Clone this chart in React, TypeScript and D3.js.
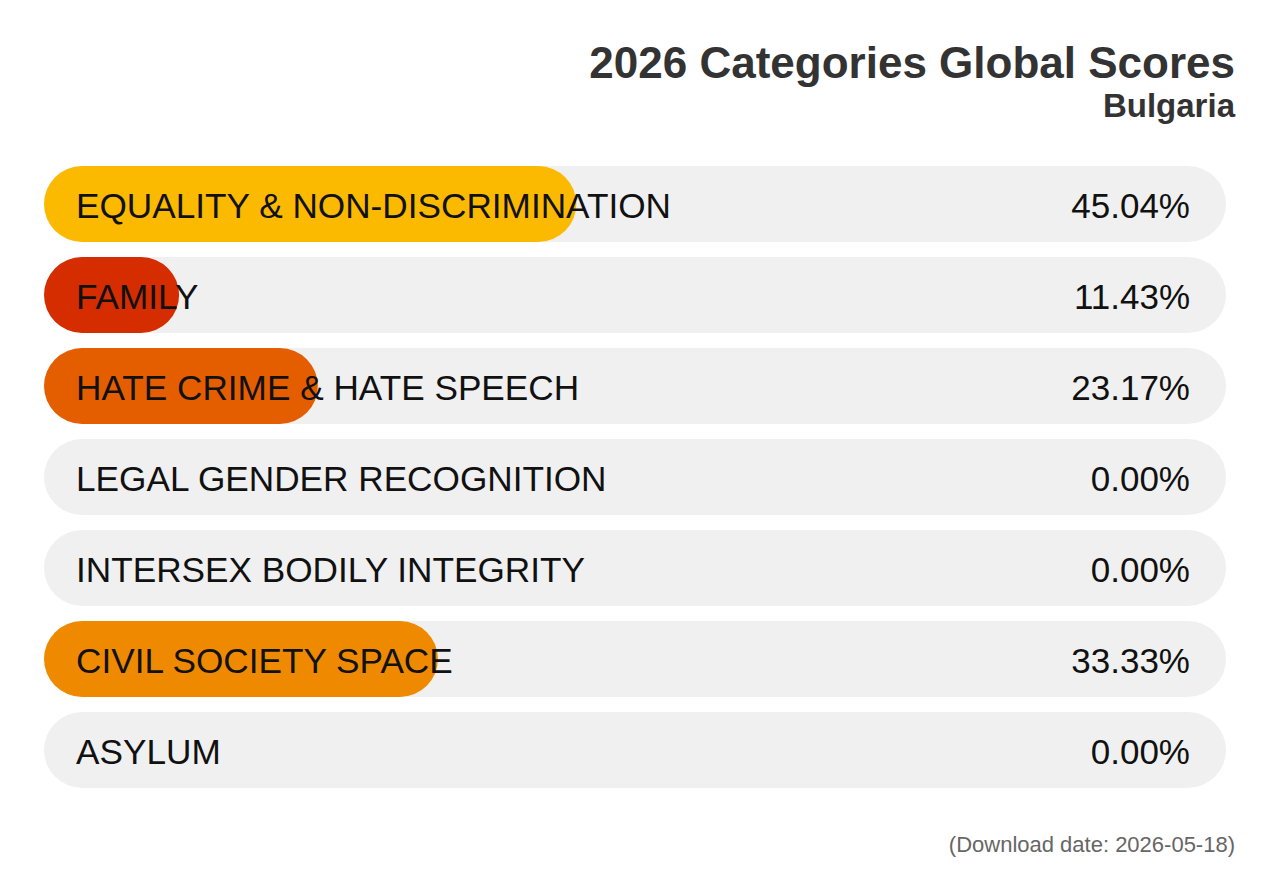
import { useEffect, useRef } from "react";
import * as d3 from "d3";

const categories = [
  "EQUALITY & NON-DISCRIMINATION",
  "FAMILY",
  "HATE CRIME & HATE SPEECH",
  "LEGAL GENDER RECOGNITION",
  "INTERSEX BODILY INTEGRITY",
  "CIVIL SOCIETY SPACE",
  "ASYLUM",
];
const scores = [45.04, 11.43, 23.17, 0, 0, 33.33, 0];
const colors = ["#FBBA00", "#D52D00", "#E45E00", "#F29000", "#F29000", "#EF8A00", "#F29000"];

const title = "2026 Categories Global Scores";
const subtitle = "Bulgaria";
const footnote = "(Download date: 2026-05-18)";

export default function App() {
  const svgRef = useRef<SVGSVGElement>(null);

  const width = 1280;
  const height = 887;

  useEffect(() => {
    const svg = d3.select(svgRef.current);
    svg.selectAll("*").remove();

    const x = d3.scaleLinear([0, 100], [44, 1226]);
    const y = d3
      .scaleBand<string>()
      .domain(categories)
      .range([158.5, 795.5])
      .paddingInner(0.165)
      .paddingOuter(0.0825);
    const bh = y.bandwidth();

    svg
      .append("text")
      .attr("x", 1235)
      .attr("y", 78)
      .attr("text-anchor", "end")
      .attr("font-size", 44)
      .attr("font-weight", "bold")
      .attr("fill", "#333")
      .text(title);

    svg
      .append("text")
      .attr("x", 1235)
      .attr("y", 117)
      .attr("text-anchor", "end")
      .attr("font-size", 33)
      .attr("font-weight", "bold")
      .attr("fill", "#333")
      .text(subtitle);

    const row = svg
      .append("g")
      .selectAll("g")
      .data(categories)
      .join("g")
      .attr("transform", (d) => `translate(0,${y(d)})`);

    row
      .append("rect")
      .attr("x", x(0))
      .attr("width", x(100) - x(0))
      .attr("height", bh)
      .attr("rx", bh / 2)
      .attr("fill", "#f0f0f0");

    row
      .filter((d, i) => scores[i] > 0)
      .append("rect")
      .attr("x", x(0))
      .attr("width", (d) => x(scores[categories.indexOf(d)]) - x(0))
      .attr("height", bh)
      .attr("rx", bh / 2)
      .attr("fill", (d) => colors[categories.indexOf(d)]);

    row
      .append("text")
      .attr("x", 76)
      .attr("y", bh / 2 + 14.5)
      .attr("font-size", 35.2)
      .attr("fill", "#111")
      .text((d) => d);

    row
      .append("text")
      .attr("x", 1190)
      .attr("y", bh / 2 + 14.5)
      .attr("text-anchor", "end")
      .attr("font-size", 35)
      .attr("fill", "#111")
      .text((d) => scores[categories.indexOf(d)].toFixed(2) + "%");

    svg
      .append("text")
      .attr("x", 1235)
      .attr("y", 852)
      .attr("text-anchor", "end")
      .attr("font-size", 22)
      .attr("fill", "#666")
      .text(footnote);
  }, []);

  return (
    <svg
      ref={svgRef}
      width={width}
      height={height}
      style={{
        position: "absolute",
        left: 0,
        top: 0,
        fontFamily: "'Liberation Sans', Arial, sans-serif",
        background: "#fff",
      }}
    />
  );
}
